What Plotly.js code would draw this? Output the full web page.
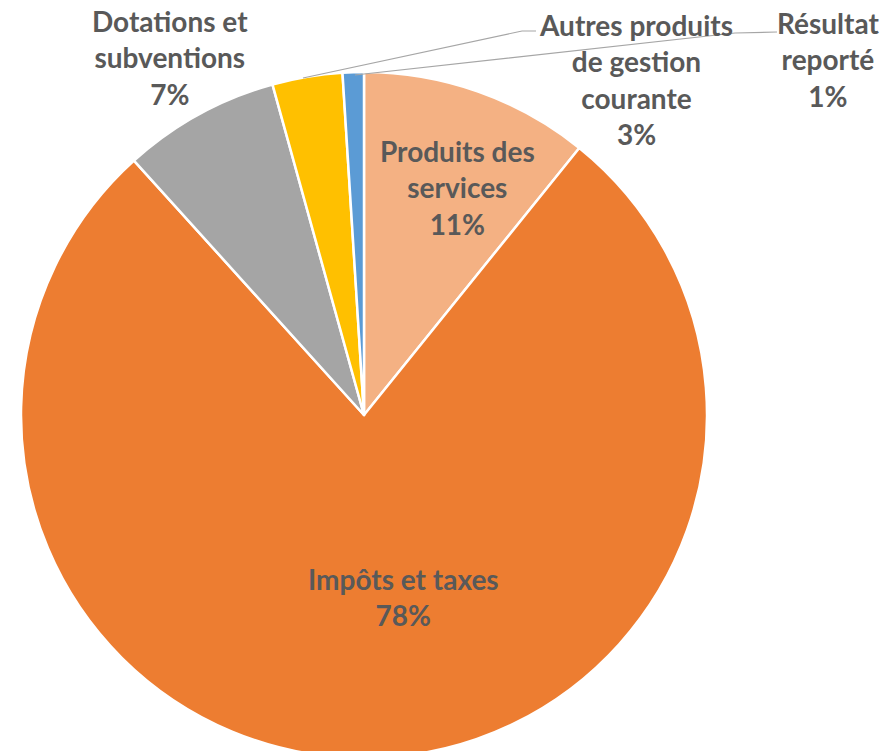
<!DOCTYPE html>
<html>
<head>
<meta charset="utf-8">
<script src="https://cdn.plot.ly/plotly-3.0.1.min.js"></script>
<style>
  html, body { margin: 0; padding: 0; overflow: hidden; background: #ffffff; }
  #chart { width: 889px; height: 765px; }
</style>
</head>
<body>
<div id="chart"></div>
<script>
// Data
const categories = ["Produits des services", "Impôts et taxes", "Dotations et subventions", "Autres produits de gestion courante", "Résultat reporté"];
const wrappedLabels = ["Produits des<br>services", "Impôts et taxes", "Dotations et<br>subventions", "Autres produits<br>de gestion<br>courante", "Résultat<br>reporté"];
const values = [10.8, 77.5, 7.4, 3.3, 1.0];
const colors = ["#F4B183", "#ED7D31", "#A5A5A5", "#FFC000", "#5B9BD5"];

const total = values.reduce((a, b) => a + b, 0);
const pctText = values.map(v => Math.round(v / total * 100) + "%");

// Plot area geometry (pixels) used to place labels
const W = 889, H = 765, mL = 21, mT = 72, side = 686;
const mR = W - mL - side, mB = H - mT - side;
const px = x => (x - mL) / side;
const py = y => (mT + side - y) / side;

// label anchor positions (pixel centres of the text blocks)
const labelPos = [[457, 187], [403, 597], [170, 58], [636, 79], [828, 59]];

const textFont = { family: "Lato, 'Open Sans', sans-serif", size: 28, color: "#595959", weight: 700 };

const annotations = categories.map((c, i) => ({
  xref: "paper", yref: "paper",
  x: px(labelPos[i][0]), y: py(labelPos[i][1]),
  xanchor: "center", yanchor: "middle",
  text: "<b>" + wrappedLabels[i] + "<br>" + pctText[i] + "</b>",
  showarrow: false, align: "center",
  font: textFont
}));

const leader = pts => ({
  type: "path", xref: "paper", yref: "paper",
  path: pts.map((p, k) => (k ? "L" : "M") + px(p[0]) + "," + py(p[1])).join(" "),
  line: { color: "#A6A6A6", width: 1.2 }
});

const shapes = [
  leader([[303, 78], [522, 31], [536, 31]]),
  leader([[355, 75], [735, 33], [777, 32]])
];

const trace = {
  type: "pie",
  labels: categories,
  values: values,
  sort: false,
  direction: "clockwise",
  rotation: 0,
  marker: { colors: colors, line: { color: "#ffffff", width: 2.5 } },
  textinfo: "none",
  hoverinfo: "label+percent",
  showlegend: false
};

const layout = {
  width: W, height: H,
  margin: { l: mL, r: mR, t: mT, b: mB, pad: 0 },
  paper_bgcolor: "#ffffff",
  plot_bgcolor: "#ffffff",
  showlegend: false,
  annotations: annotations,
  shapes: shapes
};

Plotly.newPlot("chart", [trace], layout, { displayModeBar: false, staticPlot: true });
</script>
</body>
</html>
